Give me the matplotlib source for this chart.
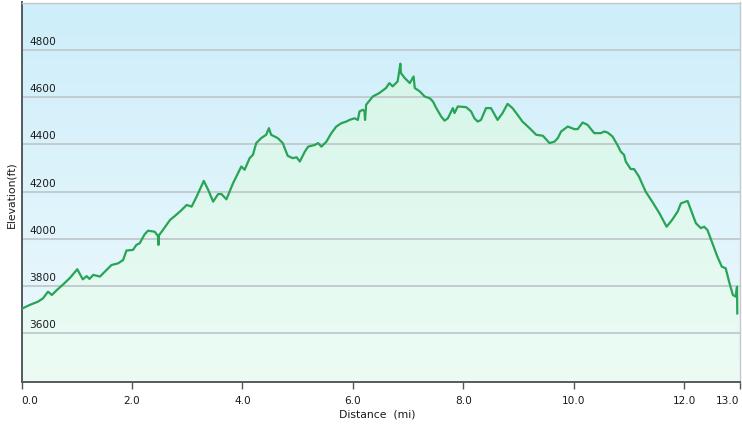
import numpy as np
import matplotlib
matplotlib.use("Agg")
import matplotlib.pyplot as plt
from matplotlib.colors import LinearSegmentedColormap
from matplotlib.transforms import blended_transform_factory, ScaledTranslation

# ---- data ----
distance_mi = [
    0.00, 0.15, 0.30, 0.39, 0.48, 0.55, 0.64, 0.76, 0.88, 1.01, 1.11, 1.18, 1.23, 1.30,
    1.42, 1.51, 1.63, 1.75, 1.84, 1.90, 2.02, 2.08, 2.14, 2.23, 2.29, 2.41, 2.47, 2.48,
    2.49, 2.56, 2.69, 2.78, 2.90, 2.99, 3.08, 3.17, 3.30, 3.38, 3.47, 3.56, 3.62, 3.71,
    3.83, 3.92, 3.98, 4.04, 4.13, 4.19, 4.25, 4.34, 4.43, 4.48, 4.52, 4.64, 4.73, 4.82,
    4.91, 4.98, 5.04, 5.07, 5.13, 5.19, 5.31, 5.37, 5.43, 5.52, 5.61, 5.70, 5.79, 5.88,
    5.94, 6.03, 6.09, 6.12, 6.18, 6.21, 6.22, 6.24, 6.36, 6.48, 6.60, 6.66, 6.72, 6.81,
    6.86, 6.87, 6.94, 7.03, 7.10, 7.12, 7.21, 7.30, 7.39, 7.45, 7.51, 7.60, 7.66, 7.72,
    7.81, 7.84, 7.90, 8.05, 8.14, 8.20, 8.26, 8.32, 8.41, 8.50, 8.62, 8.71, 8.80, 8.89,
    8.98, 9.07, 9.20, 9.32, 9.44, 9.56, 9.65, 9.71, 9.77, 9.89, 10.01, 10.07, 10.16,
    10.25, 10.37, 10.49, 10.55, 10.61, 10.70, 10.79, 10.85, 10.91, 10.94, 11.03, 11.09,
    11.18, 11.30, 11.42, 11.55, 11.68, 11.78, 11.88, 11.94, 12.06, 12.12, 12.21, 12.30,
    12.36, 12.42, 12.51, 12.60, 12.68, 12.75, 12.82, 12.88, 12.93, 12.955, 12.96,
]
elevation_ft = [
    3703, 3720, 3734, 3748, 3776, 3762, 3783, 3808, 3835, 3871, 3828, 3842, 3830, 3847,
    3840, 3861, 3889, 3896, 3910, 3950, 3953, 3974, 3981, 4019, 4034, 4030, 4012, 3974,
    4015, 4037, 4080, 4097, 4122, 4143, 4136, 4178, 4245, 4207, 4157, 4189, 4189, 4167,
    4235, 4277, 4306, 4292, 4341, 4355, 4405, 4426, 4440, 4468, 4440, 4426, 4405, 4351,
    4341, 4345, 4327, 4341, 4369, 4390, 4397, 4405, 4390, 4411, 4447, 4475, 4489, 4496,
    4503, 4510, 4503, 4539, 4546, 4539, 4503, 4567, 4602, 4617, 4638, 4659, 4645, 4666,
    4741, 4701, 4680, 4659, 4687, 4638, 4624, 4602, 4595, 4581, 4553, 4517, 4500, 4510,
    4553, 4532, 4560, 4557, 4539, 4510, 4496, 4503, 4553, 4553, 4503, 4532, 4571, 4553,
    4525, 4496, 4468, 4440, 4436, 4405, 4411, 4426, 4454, 4475, 4464, 4464, 4492,
    4482, 4447, 4447, 4454, 4450, 4433, 4397, 4369, 4355, 4327, 4295, 4295,
    4263, 4200, 4157, 4108, 4051, 4080, 4115, 4150, 4160, 4122, 4066, 4045,
    4051, 4037, 3981, 3924, 3882, 3875, 3811, 3762, 3755, 3797, 3684,
]
y_ticks = [3600, 3800, 4000, 4200, 4400, 4600, 4800]
x_ticks = [0.0, 2.0, 4.0, 6.0, 8.0, 10.0, 12.0, 13.0]
x_tick_labels = ["0.0", "2.0", "4.0", "6.0", "8.0", "10.0", "12.0", "13.0"]

x = np.array(distance_mi)
y = np.array(elevation_ft)

W, H = 742, 425
fig = plt.figure(figsize=(W / 100, H / 100), dpi=100)
fig.patch.set_facecolor("white")
left, right, top, bottom = 21.5, 739.5, 2.5, 381.7
ax = fig.add_axes([left / W, 1 - bottom / H, (right - left) / W, (bottom - top) / H])

x0, x1 = 0.0, 13.0
y0, y1 = 3395, 5000
ax.set_xlim(x0, x1)
ax.set_ylim(y0, y1)

# background gradient (sky blue -> pale)
bg_cmap = LinearSegmentedColormap.from_list("bg", ["#eef9fc", "#cdeefa"])
grad = np.linspace(0, 1, 256).reshape(-1, 1)
ax.imshow(grad, cmap=bg_cmap, origin="lower", aspect="auto",
          extent=[x0, x1, y0, y1], zorder=0)

# fill under the profile (mint gradient clipped to area)
fill_cmap = LinearSegmentedColormap.from_list("fill", ["#ecfcf4", "#d2f4e6"])
poly = ax.fill_between(x, y, y0, color="none", lw=0, zorder=1)
im = ax.imshow(grad, cmap=fill_cmap, origin="lower", aspect="auto",
               extent=[x0, x1, y0, y1], zorder=1)
im.set_clip_path(poly.get_paths()[0], transform=ax.transData)

# grid
ax.set_yticks(y_ticks)
ax.set_yticklabels([])
ax.tick_params(axis="y", length=0)
ax.set_axisbelow("line")
ax.yaxis.grid(True, color="#c3cccf", lw=1.4)

# profile line
ax.plot(x, y, color="#27a456", lw=1.6, zorder=3, solid_joinstyle="round")

# y tick labels inside the axes, just above the grid lines
trans = blended_transform_factory(ax.transAxes, ax.transData)
off = ScaledTranslation(7.5 / 100, 3.0 / 100, fig.dpi_scale_trans)
for v in y_ticks:
    ax.text(0, v, str(v), transform=trans + off, ha="left", va="bottom",
            fontsize=7.6, color="#1a1a1a", zorder=4)

# x ticks
ax.set_xticks(x_ticks)
ax.set_xticklabels(x_tick_labels, fontsize=7.6, color="#1a1a1a")
ax.tick_params(axis="x", length=5, width=1, color="#555555", pad=5)
lbls = ax.get_xticklabels()
lbls[0].set_horizontalalignment("left")
lbls[-1].set_horizontalalignment("right")

# spines
for s in ("left", "bottom"):
    ax.spines[s].set_color("#555a5c")
    ax.spines[s].set_linewidth(1.4)
for s in ("top", "right"):
    ax.spines[s].set_color("#c4c8ca")
    ax.spines[s].set_linewidth(1.0)

fig.text(377 / W, 1 - 414.5 / H, "Distance  (mi)", ha="center", va="center",
         fontsize=7.8, color="#1a1a1a")
fig.text(11.3 / W, 1 - 194.5 / H, "Elevation(ft)", ha="center", va="center",
         rotation=90, fontsize=7.8, color="#1a1a1a")

fig.savefig("out.png", dpi=100)
